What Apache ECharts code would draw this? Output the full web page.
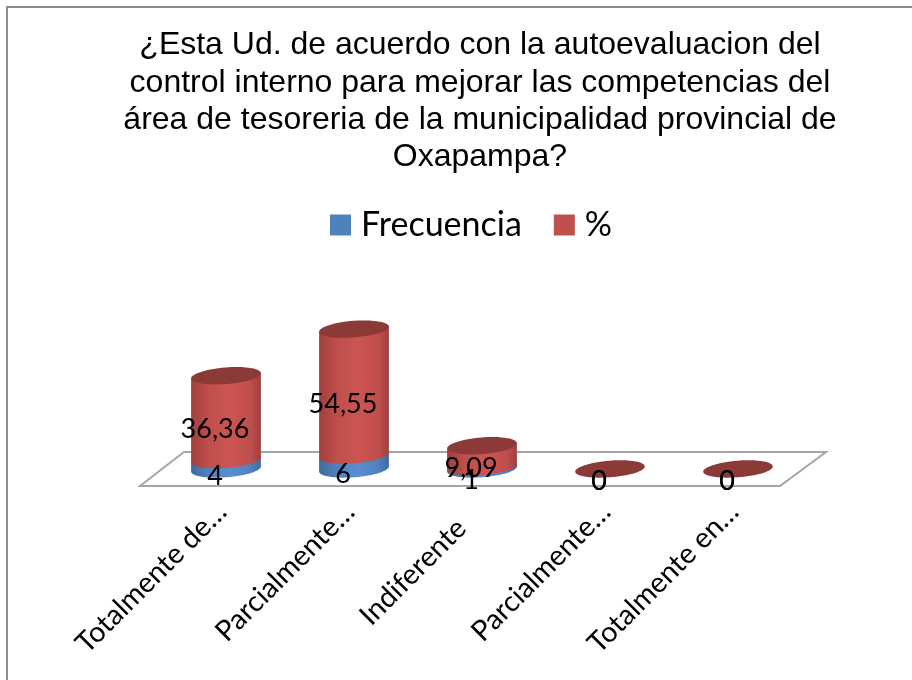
<!DOCTYPE html>
<html>
<head>
<meta charset="utf-8">
<style>
  html, body { margin: 0; padding: 0; background: #fff; }
  #chart { width: 912px; height: 680px; }
</style>
<script src="https://cdn.jsdelivr.net/npm/echarts@6/dist/echarts.min.js"></script>
</head>
<body>
<div id="chart"></div>
<script>
const titleLines = [
  '¿Esta Ud. de acuerdo con la autoevaluacion del',
  'control interno para mejorar las competencias del',
  'área de tesoreria de la municipalidad provincial de',
  'Oxapampa?'
]
const categories = ['Totalmente de…', 'Parcialmente…', 'Indiferente', 'Parcialmente…', 'Totalmente en…']
const frecuencia = [4, 6, 1, 0, 0]
const porcentaje = [36.36, 54.55, 9.09, 0, 0]

const labelFont = 'Lato, "Noto Sans", sans-serif'

function sideGradient(stops) {
  return {
    type: 'linear', x: 0, y: 0, x2: 1, y2: 0,
    colorStops: [
      { offset: 0, color: stops[0] },
      { offset: 0.25, color: stops[1] },
      { offset: 0.55, color: stops[2] },
      { offset: 0.85, color: stops[1] },
      { offset: 1, color: stops[0] }
    ]
  }
}

// one cylinder segment: data row is [category, from, to, value]
function cylinder(opts) {
  return function (params, api) {
    const idx = api.value(0)
    const from = api.coord([idx, api.value(1)])
    const to = api.coord([idx, api.value(2)])
    const value = api.value(3)
    const rx = 35, ry = 8.3, tilt = 0.08
    const dx = rx * Math.cos(tilt), dy = rx * Math.sin(tilt)
    const children = []
    const ellipse = (y, fill) => ({
      type: 'ellipse',
      x: from[0], y: y, originX: 0, originY: 0, rotation: tilt,
      shape: { cx: 0, cy: 0, rx: rx, ry: ry },
      style: { fill: fill }
    })
    if (value > 0) {
      const side = sideGradient(opts.stops)
      children.push(ellipse(from[1], side))
      children.push({
        type: 'polygon',
        shape: {
          points: [
            [from[0] - dx, from[1] + dy],
            [from[0] + dx, from[1] - dy],
            [from[0] + dx, to[1] - dy],
            [from[0] - dx, to[1] + dy]
          ]
        },
        style: { fill: side }
      })
    }
    if (opts.cap) children.push(ellipse(to[1], opts.cap))
    const midY = (from[1] + to[1]) / 2
    children.push({
      type: 'text',
      z2: 100,
      silent: true,
      x: from[0] - 11,
      y: midY + 12,
      style: {
        text: String(value).replace('.', ','),
        font: '27px ' + labelFont,
        fill: '#000',
        textAlign: 'center',
        textVerticalAlign: 'middle'
      }
    })
    return { type: 'group', children: children }
  }
}

function rows(values, base) {
  return values.map((v, i) => {
    const from = base ? base[i] : 0
    return [i, from, from + v, v]
  })
}

const chart = echarts.init(document.getElementById('chart'), null, { renderer: 'canvas' })
chart.setOption({
  animation: false,
  backgroundColor: '#fff',
  title: {
    text: titleLines.join('\n'),
    left: 475,
    top: 22,
    textAlign: 'center',
    textStyle: {
      fontFamily: '"Liberation Sans", Arial, sans-serif',
      fontWeight: 'normal',
      fontSize: 32,
      lineHeight: 37.3,
      color: '#000'
    }
  },
  legend: {
    left: 325,
    top: 203,
    itemWidth: 21,
    itemHeight: 21,
    itemGap: 32,
    icon: 'rect',
    selectedMode: false,
    textStyle: { fontFamily: labelFont, fontSize: 34, color: '#000', padding: [0, 0, 0, 5] },
    data: ['Frecuencia', '%']
  },
  grid: { left: 162, right: 110, top: 307.3, bottom: 211 },
  xAxis: {
    type: 'category',
    // the untruncated label sits further down its diagonal in the original
    data: categories.map(c => c === 'Indiferente'
      ? { value: c, textStyle: { padding: [0, 29, 0, 0] } }
      : c),
    axisLine: { show: false },
    axisTick: { show: false },
    axisLabel: {
      interval: 0,
      rotate: 45,
      margin: 34,
      padding: [0, 6, 0, 0],
      fontFamily: labelFont,
      fontSize: 28.5,
      color: '#000'
    }
  },
  yAxis: { type: 'value', min: 0, max: 70, show: false },
  graphic: [
    {
      type: 'polygon',
      z: 0,
      shape: { points: [[140, 486], [184, 452], [826, 452], [780, 486]] },
      style: { fill: '#fff', stroke: '#A6A6A6', lineWidth: 2 }
    },
    {
      type: 'polyline',
      z: 0,
      shape: { points: [[7, 680], [7, 7], [912, 7]] },
      style: { fill: 'none', stroke: '#8C8C8C', lineWidth: 2 }
    }
  ],
  series: [
    {
      name: 'Frecuencia',
      type: 'custom',
      itemStyle: { color: '#4F81BD' },
      encode: { x: 0, y: [1, 2] },
      renderItem: cylinder({ stops: ['#3F6A9E', '#4F81BD', '#5A8ED0'] }),
      data: rows(frecuencia)
    },
    {
      name: '%',
      type: 'custom',
      itemStyle: { color: '#C0504D' },
      encode: { x: 0, y: [1, 2] },
      renderItem: cylinder({ stops: ['#A03F3C', '#BF4F4C', '#CC5552'], cap: '#8C3A38' }),
      data: rows(porcentaje, frecuencia)
    }
  ]
})
</script>
</body>
</html>
